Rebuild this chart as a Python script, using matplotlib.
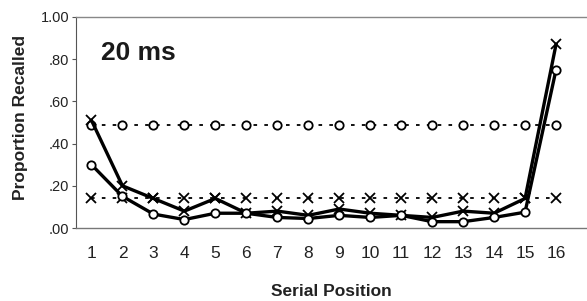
import matplotlib
matplotlib.use("Agg")
import matplotlib.pyplot as plt
import numpy as np

plt.rcParams['font.family'] = ['Liberation Sans', 'DejaVu Sans']

positions = list(range(1, 17))
baseline_o = [0.49] * 16
baseline_x = [0.14] * 16
solid_x = [0.51, 0.20, 0.14, 0.08, 0.14, 0.07, 0.08, 0.06, 0.09, 0.07, 0.06, 0.05, 0.08, 0.07, 0.14, 0.87]
solid_o = [0.30, 0.15, 0.066, 0.04, 0.07, 0.07, 0.05, 0.045, 0.06, 0.05, 0.06, 0.03, 0.03, 0.05, 0.075, 0.75]
yticks = [0.0, 0.2, 0.4, 0.6, 0.8, 1.0]
ytick_labels = ['.00', '.20', '.40', '.60', '.80', '1.00']

fig = plt.figure(figsize=(5.87, 3.01), dpi=100)
ax = fig.add_axes([76/587, 1-228/301, (587-76)/587, (228-17)/301])

dot = (0, (2.0, 4.0))
ax.plot(positions, baseline_o, color='black', lw=1.3, ls=dot, marker='o', ms=6,
        mfc='white', mec='black', mew=1.3, zorder=2)
ax.plot(positions, baseline_x, color='black', lw=1.3, ls=dot, marker='x', ms=7.5,
        mec='black', mew=1.3, zorder=2)
ax.plot(positions, solid_x, color='black', lw=2.4, ls='-', marker='x', ms=7.5,
        mec='black', mew=1.3, zorder=3)
ax.plot(positions, solid_o, color='black', lw=2.4, ls='-', marker='o', ms=6,
        mfc='white', mec='black', mew=1.3, zorder=4)

ax.set_xlim(0.5, 17.0)
ax.set_ylim(0, 1.0)
ax.set_xticks(positions)
ax.set_xticklabels([str(p) for p in positions], fontsize=12.5, color='#222222')
ax.set_yticks(yticks)
ax.set_yticklabels(ytick_labels, fontsize=10.5, color='#222222')
ax.tick_params(axis='x', length=0, pad=13)
ax.tick_params(axis='y', length=3, width=0.8, pad=2, color='#555555')

ax.spines['right'].set_visible(False)
ax.spines['top'].set_color('#888888')
ax.spines['top'].set_linewidth(1.0)
ax.spines['bottom'].set_color('#777777')
ax.spines['bottom'].set_linewidth(1.0)
ax.spines['left'].set_color('#555555')
ax.spines['left'].set_linewidth(0.8)

ax.set_xlabel('Serial Position', fontsize=12.5, fontweight='bold', color='#222222')
ax.set_ylabel('Proportion Recalled', fontsize=12.5, fontweight='bold', color='#222222')
ax.xaxis.label.set_va('center')
ax.xaxis.set_label_coords(0.5, -64/211)
ax.yaxis.label.set_va('center')
ax.yaxis.label.set_ha('center')
ax.yaxis.set_label_coords(-55/511, 110/211)

ax.text(1.32, 0.83, '20 ms', fontsize=19, fontweight='bold', ha='left', va='center',
        color='#1a1a1a')

fig.savefig('out.png', dpi=100)
